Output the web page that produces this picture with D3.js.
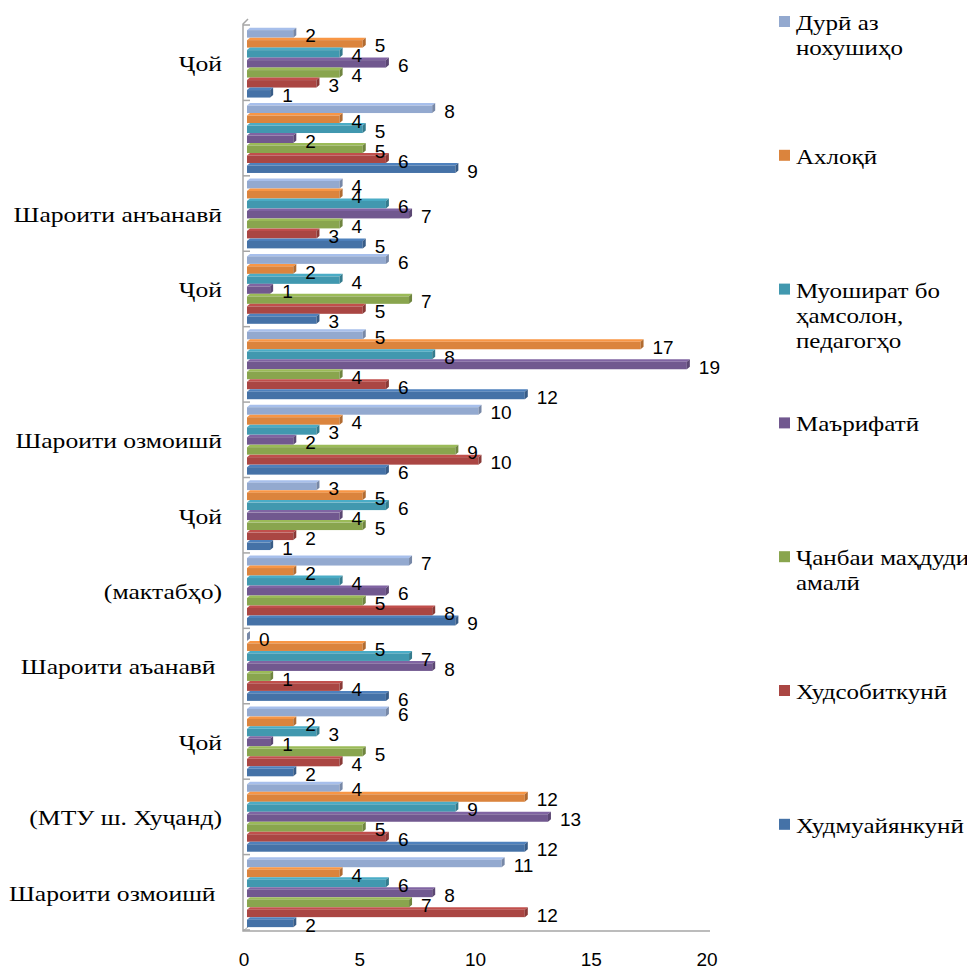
<!DOCTYPE html>
<html>
<head>
<meta charset="utf-8">
<script src="https://cdn.jsdelivr.net/npm/d3@7"></script>
<style>
  html, body { margin: 0; padding: 0; background: #fff; }
  svg { display: block; }
</style>
</head>
<body>
<svg id="chart" width="967" height="969"></svg>
<script>
// ---- Data (categories listed bottom to top) ----
const categories = [
  "Шароити озмоишӣ ", "(МТУ ш. Хуҷанд)", "Ҷой", "Шароити аъанавӣ ", "(мактабҳо)", "Ҷой",
  "Шароити озмоишӣ", "", "Ҷой", "Шароити анъанавӣ", "", "Ҷой"
];
const seriesNames = [
  "Худмуайянкунӣ", "Худсобиткунӣ", "Ҷанбаи маҳдуди\nамалӣ", "Маърифатӣ",
  "Муошират бо\nҳамсолон,\nпедагогҳо", "Ахлоқӣ", "Дурӣ аз\nнохушиҳо"
];
const seriesColors = ["#4572A7", "#AA4643", "#89A54E", "#71588F", "#4198AF", "#DB843D", "#93A9CF"];
// values per series, in category order (bottom to top)
const khudmuayyankuni = [2, 12, 2, 6, 9, 1, 6, 12, 3, 5, 9, 1];
const khudsobitkuni   = [12, 6, 4, 4, 8, 2, 10, 6, 5, 3, 6, 3];
const janbai          = [7, 5, 5, 1, 5, 5, 9, 4, 7, 4, 5, 4];
const marifati        = [8, 13, 1, 8, 6, 4, 2, 19, 1, 7, 2, 6];
const muoshirat       = [6, 9, 3, 7, 4, 6, 3, 8, 4, 6, 5, 4];
const akhloqi         = [4, 12, 2, 5, 2, 5, 4, 17, 2, 4, 4, 5];
const duri            = [11, 4, 6, 0, 7, 3, 10, 5, 6, 4, 8, 2];
const seriesValues = [khudmuayyankuni, khudsobitkuni, janbai, marifati, muoshirat, akhloqi, duri];
const xTicks = [0, 5, 10, 15, 20];

// ---- Layout ----
const svg = d3.select("#chart");
const plotLeft = 247, plotRight = 710, plotTop = 25, plotBottom = 930;
const x = d3.scaleLinear().domain([0, 20]).range([plotLeft, plotRight]);
const catIdx = d3.range(categories.length);
const y0 = d3.scaleBand().domain(catIdx.slice().reverse()).range([plotTop, plotBottom]).padding(0);
const bw = y0.bandwidth();
const serIdx = d3.range(seriesNames.length);
const y1 = d3.scaleBand().domain(serIdx.slice().reverse()).range([bw * 0.035, bw * 0.962]).padding(0);
const bh = y1.bandwidth();
const dx = 3, dy = 2.5;

function shade(c, k) { return d3.color(c).darker(k).formatHex(); }
function tint(c, k) { return d3.color(c).brighter(k).formatHex(); }

// stretch serif text horizontally to match the wide rendering of the original
function widen(stretch) {
  return sel => sel.each(function () {
    const len = this.getComputedTextLength();
    if (len > 0) {
      d3.select(this).attr("textLength", len * stretch).attr("lengthAdjust", "spacingAndGlyphs");
    }
  });
}

// ---- Wall / axes ----
const axisColor = "#A6A6A6";
const wall = svg.append("g");
wall.append("path")
  .attr("d", `M${plotLeft + 1},${plotTop - 6} L${plotLeft - 4},${plotTop - 1} L${plotLeft - 4},${plotBottom + 1} L${plotRight},${plotBottom + 1}`)
  .attr("fill", "none").attr("stroke", axisColor).attr("stroke-width", 1.5);
wall.append("path")
  .attr("d", `M${plotLeft - 4},${plotBottom + 1} L${plotLeft + 1},${plotBottom - 3}`)
  .attr("fill", "none").attr("stroke", axisColor).attr("stroke-width", 1);
wall.selectAll("line.ct").data(d3.range(categories.length + 1)).join("line")
  .attr("x1", plotLeft - 4).attr("x2", plotLeft + 3)
  .attr("y1", i => plotTop + i * bw).attr("y2", i => plotTop + i * bw)
  .attr("stroke", axisColor).attr("stroke-width", 1.5);

// ---- Bars ----
const bars = [];
catIdx.forEach(ci => {
  serIdx.forEach(si => {
    bars.push({ ci, si, v: seriesValues[si][ci] });
  });
});
const gBars = svg.append("g");
bars.sort((a, b) => (y0(a.ci) + y1(a.si)) - (y0(b.ci) + y1(b.si)));
bars.forEach(d => {
  const top = y0(d.ci) + y1(d.si);
  const xv = x(d.v);
  const x0 = x(0);
  const col = seriesColors[d.si];
  const g = gBars.append("g");
  g.append("path")
    .attr("d", `M${x0},${top + dy} L${x0 + dx},${top} L${xv + dx},${top} L${xv},${top + dy} Z`)
    .attr("fill", tint(col, 0.35));
  g.append("rect")
    .attr("x", x0).attr("y", top + dy)
    .attr("width", Math.max(0, xv - x0)).attr("height", bh - dy)
    .attr("fill", col);
  g.append("path")
    .attr("d", `M${xv},${top + dy} L${xv + dx},${top} L${xv + dx},${top + bh - dy} L${xv},${top + bh} Z`)
    .attr("fill", shade(col, 0.6));
});

// ---- Data labels ----
const labelFont = "'Liberation Sans', Arial, sans-serif";
svg.append("g").selectAll("text").data(bars).join("text")
  .attr("x", d => x(d.v) + dx + 9)
  .attr("y", d => y0(d.ci) + y1(d.si) + bh / 2 + 3)
  .attr("dy", "0.35em")
  .style("font-family", labelFont).style("font-size", "19px").attr("fill", "#000")
  .text(d => d.v);

// ---- X tick labels ----
svg.append("g").selectAll("text").data(xTicks).join("text")
  .attr("x", d => x(d) - 3).attr("y", 966)
  .attr("text-anchor", "middle")
  .style("font-family", labelFont).style("font-size", "19px").attr("fill", "#000")
  .text(d => d);

// ---- Category labels ----
const serif = "'Liberation Serif', 'Times New Roman', serif";
svg.append("g").selectAll("text").data(catIdx).join("text")
  .attr("x", 222).attr("y", i => y0(i) + bw / 2 + 1)
  .attr("dy", "0.35em")
  .attr("text-anchor", "end")
  .style("white-space", "pre")
  .style("font-family", serif).style("font-size", "21px").attr("fill", "#000")
  .text(i => categories[i])
  .call(widen(1.22));

// ---- Legend (top to bottom: last series first) ----
const legendOrder = serIdx.slice().reverse();
const legStep = 133.8, legTop = 22;
const leg = svg.append("g");
legendOrder.forEach((si, k) => {
  const cy = legTop + k * legStep;
  leg.append("rect").attr("x", 779).attr("y", cy - 6).attr("width", 11).attr("height", 11)
    .attr("fill", seriesColors[si]);
  seriesNames[si].split("\n").forEach((line, li) => {
    leg.append("text").attr("x", 796).attr("y", cy + 8 + li * 25)
      .style("font-family", serif).style("font-size", "21px").attr("fill", "#000")
      .text(line)
      .call(widen(1.19));
  });
});
</script>
</body>
</html>
